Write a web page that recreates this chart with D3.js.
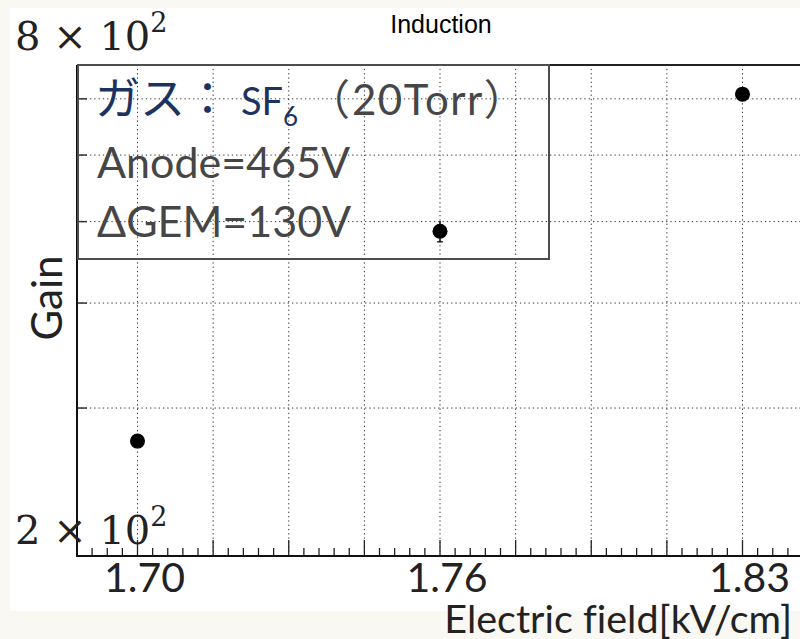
<!DOCTYPE html>
<html>
<head>
<meta charset="utf-8">
<script src="https://cdn.jsdelivr.net/npm/d3@7"></script>
<style>
  html, body { margin: 0; padding: 0; background: #f9f8f3; }
  svg { display: block; }
  text { font-variant-ligatures: none; font-feature-settings: "liga" 0; }
</style>
</head>
<body>
<svg id="chart" width="800" height="639"></svg>
<script>
// Gain vs induction electric field (SF6, 20 Torr)
const fieldValues = [1.70, 1.765, 1.83];      // kV/cm
const gainValues = [274, 487, 709];
const gainErrors = [4, 14, 12];

const xTickValues = [1.70, 1.765, 1.83];
const xTickLabels = ["1.70", "1.76", "1.83"];
const yGridValues = [300, 400, 500, 600, 700];
const yLabelValues = [800, 200];

const titleText = "Induction";
const xTitle = "Electric field[kV/cm]";
const yTitle = "Gain";
const legendLines = ["Anode=465V", "\u0394GEM=130V"];

const svg = d3.select("#chart");
const W = 800, H = 639;

const frame = { left: 77, right: 803, top: 65, bottom: 556 };

// Canvas
svg.append("rect").attr("x", 10).attr("y", 8).attr("width", 790).attr("height", 603)
  .attr("fill", "#ffffff");

const xMajor = (1.83 - 1.70) / 8;
const x = d3.scaleLinear()
  .domain([1.70 - 0.8 * xMajor, 1.83 + 0.8 * xMajor])
  .range([frame.left, frame.right]);
const y = d3.scaleLog()
  .domain([200, 768])
  .range([frame.bottom, frame.top]);

const gridColor = "#333";
const g = svg.append("g");

// Vertical grid at major ticks
const majorX = d3.range(0, 9).map(i => 1.70 + i * xMajor);
g.selectAll("line.vgrid").data(majorX).join("line")
  .attr("class", "vgrid")
  .attr("x1", d => x(d)).attr("x2", d => x(d))
  .attr("y1", frame.bottom).attr("y2", frame.top)
  .attr("stroke", gridColor).attr("stroke-width", 1)
  .attr("stroke-dasharray", "1.3,3");

// Horizontal grid
g.selectAll("line.hgrid").data(yGridValues).join("line")
  .attr("class", "hgrid")
  .attr("x1", frame.left).attr("x2", W)
  .attr("y1", d => y(d)).attr("y2", d => y(d))
  .attr("stroke", gridColor).attr("stroke-width", 1)
  .attr("stroke-dasharray", "1.3,3");

// X ticks: major and minor (5 subdivisions)
const minorX = d3.range(-4, 45).map(i => 1.70 + i * xMajor / 5)
  .filter(v => x(v) >= frame.left - 0.5 && x(v) <= W + 2);
g.selectAll("line.xtick").data(minorX).join("line")
  .attr("class", "xtick")
  .attr("x1", d => x(d)).attr("x2", d => x(d))
  .attr("y1", frame.bottom)
  .attr("y2", d => {
    const k = Math.round((d - 1.70) / (xMajor / 5));
    return frame.bottom - (k % 5 === 0 ? 16 : 8);
  })
  .attr("stroke", "#222").attr("stroke-width", 1.3);

// Y ticks
g.selectAll("line.ytick").data(yGridValues).join("line")
  .attr("class", "ytick")
  .attr("x1", frame.left).attr("x2", frame.left + 10)
  .attr("y1", d => y(d)).attr("y2", d => y(d))
  .attr("stroke", "#333").attr("stroke-width", 1.5);

// Frame lines
g.append("line").attr("x1", frame.left).attr("x2", W)
  .attr("y1", frame.top).attr("y2", frame.top)
  .attr("stroke", "#222").attr("stroke-width", 2);
g.append("line").attr("x1", frame.left).attr("x2", frame.left)
  .attr("y1", frame.top).attr("y2", frame.bottom + 1)
  .attr("stroke", "#111").attr("stroke-width", 2);
g.append("line").attr("x1", frame.left - 1).attr("x2", W)
  .attr("y1", frame.bottom).attr("y2", frame.bottom)
  .attr("stroke", "#111").attr("stroke-width", 2);

// X tick labels
const sansFont = "Lato, 'Open Sans', sans-serif";
g.selectAll("text.xlab").data(xTickValues).join("text")
  .attr("class", "xlab")
  .attr("x", d => x(d) + 7).attr("y", 592)
  .attr("text-anchor", "middle")
  .attr("font-family", sansFont).attr("font-size", 41)
  .attr("fill", "#222")
  .text((d, i) => xTickLabels[i]);

// Y labels in a × 10^n form
const serif = "'DejaVu Serif', 'Liberation Serif', serif";
yLabelValues.forEach(v => {
  const exp = Math.floor(Math.log10(v));
  const mant = Math.round(v / Math.pow(10, exp));
  const base = Math.min(y(v), frame.bottom - 12);
  const t = g.append("text")
    .attr("x", 15).attr("y", base)
    .attr("font-family", serif).attr("font-size", 40)
    .attr("fill", "#222");
  t.append("tspan").text(mant + " \u00D7 10");
  t.append("tspan").attr("dy", -18).attr("font-size", 27).text(exp);
});

// Axis titles
svg.append("text")
  .attr("x", 792).attr("y", 633)
  .attr("text-anchor", "end")
  .attr("font-family", sansFont).attr("font-size", 39.5)
  .attr("fill", "#222")
  .text(xTitle);

svg.append("text")
  .attr("transform", "translate(62,298) rotate(-90)")
  .attr("text-anchor", "middle")
  .attr("font-family", sansFont).attr("font-size", 42)
  .attr("fill", "#222")
  .text(yTitle);

// Title
svg.append("text")
  .attr("x", 441).attr("y", 33)
  .attr("text-anchor", "middle")
  .attr("font-family", "'Liberation Sans', Arial, sans-serif").attr("font-size", 25)
  .attr("fill", "#000")
  .text(titleText);

// Legend box (unfilled)
svg.append("rect")
  .attr("x", frame.left + 1).attr("y", frame.top)
  .attr("width", 471).attr("height", 194)
  .attr("fill", "none").attr("stroke", "#4d4d4d").attr("stroke-width", 2);

const navy = "#1c3360";
const gray = "#464646";
const cjk = "'Noto Sans CJK JP', sans-serif";
const l1 = svg.append("text").attr("y", 115);
l1.append("tspan").attr("x", 95).attr("font-family", cjk)
  .attr("font-size", 45).attr("fill", navy).text("ガス：");
l1.append("tspan").attr("x", 241).attr("font-family", sansFont)
  .attr("font-size", 38).attr("fill", navy).text("SF");
l1.append("tspan").attr("font-family", sansFont)
  .attr("font-size", 26).attr("dy", 11).attr("fill", navy).text("6");
l1.append("tspan").attr("x", 308).attr("font-family", cjk)
  .attr("font-size", 42).attr("dy", -11).attr("fill", gray).text("（");
l1.append("tspan").attr("x", 352).attr("font-family", sansFont)
  .attr("font-size", 42).attr("letter-spacing", 1.5).attr("fill", gray).text("20Torr");
l1.append("tspan").attr("font-family", cjk)
  .attr("font-size", 42).attr("fill", gray).text("）");

svg.selectAll("text.leg").data(legendLines).join("text")
  .attr("class", "leg")
  .attr("x", 97).attr("y", (d, i) => 178 + i * 59)
  .attr("font-family", sansFont).attr("font-size", 43)
  .attr("fill", gray)
  .text(d => d);

// Data points with error bars
const pts = fieldValues.map((f, i) => ({ f, g: gainValues[i], e: gainErrors[i] }));
const pg = svg.append("g");
pg.selectAll("line.err").data(pts).join("line")
  .attr("class", "err")
  .attr("x1", d => x(d.f)).attr("x2", d => x(d.f))
  .attr("y1", d => y(d.g - d.e)).attr("y2", d => y(d.g + d.e))
  .attr("stroke", "#000").attr("stroke-width", 1.5);
pg.selectAll("line.cap").data(pts).join("line")
  .attr("class", "cap")
  .attr("x1", d => x(d.f) - 3).attr("x2", d => x(d.f) + 3)
  .attr("y1", d => y(d.g - d.e)).attr("y2", d => y(d.g - d.e))
  .attr("stroke", "#000").attr("stroke-width", 1.2);
pg.selectAll("circle").data(pts).join("circle")
  .attr("cx", d => x(d.f)).attr("cy", d => y(d.g))
  .attr("r", 7.5).attr("fill", "#000");
</script>
</body>
</html>
